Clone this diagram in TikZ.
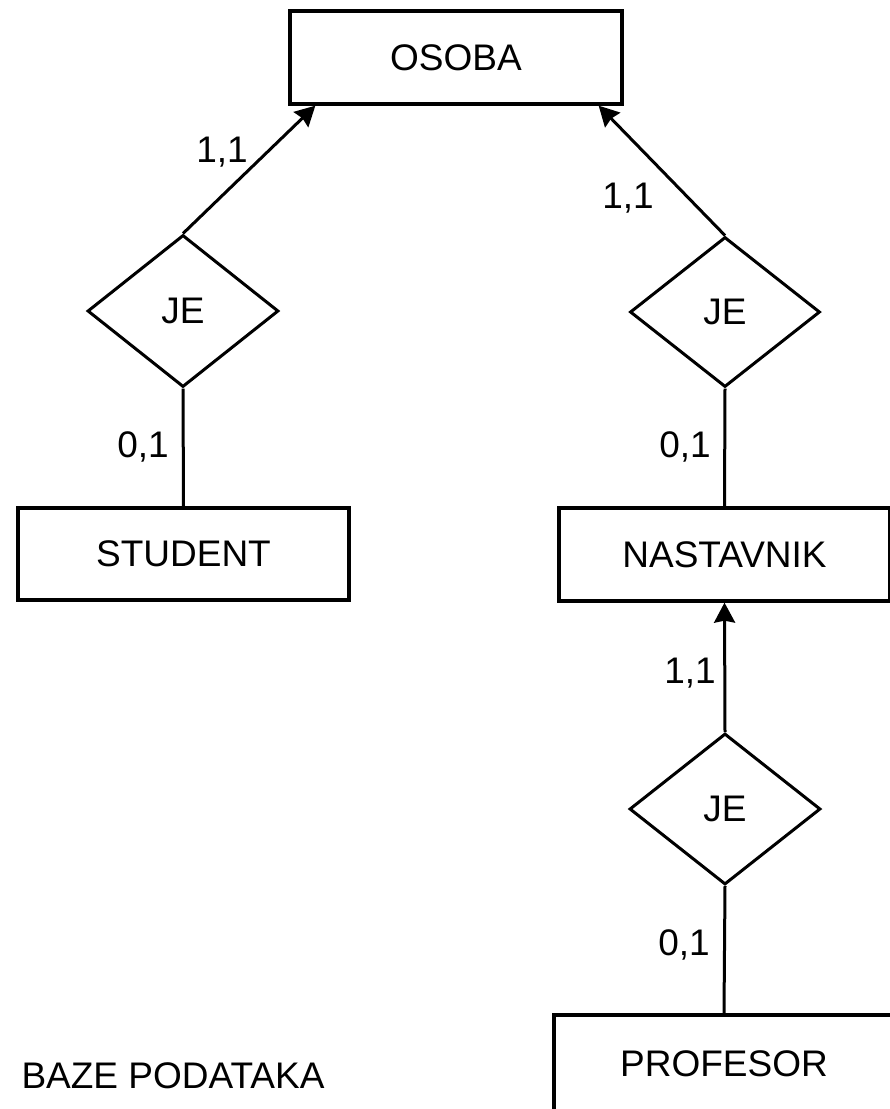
\documentclass[tikz,border=0pt]{standalone}
\usepackage{fontspec}
\setmainfont{Liberation Sans}
\usetikzlibrary{shapes.geometric,arrows.meta,calc}
\begin{document}
\begin{tikzpicture}[x=1pt,y=-1pt,
  every node/.style={font=\fontsize{37}{44}\selectfont},
  entity/.style={draw,line width=3.3pt,rectangle,inner sep=0pt},
  relation/.style={draw,line width=3pt,diamond,inner sep=0pt},
  link/.style={line width=3pt},
  isa/.style={link,-{Stealth[length=20pt,width=21pt,inset=2pt]}},
  card/.style={anchor=base}]
\path[use as bounding box] (0,0) rectangle (890,1109);
\clip (0,0) rectangle (890,1109);

% entities
\node[entity,minimum width=332pt,minimum height=93pt] (osoba) at (456,57.5) {OSOBA};
\node[entity,minimum width=331pt,minimum height=92pt] (student) at (183.5,554) {STUDENT};
\node[entity,minimum width=331pt,minimum height=93pt] (nastavnik) at (724.5,554.5) {NASTAVNIK};
\node[entity,minimum width=340pt,minimum height=98pt] (profesor) at (724,1064) {PROFESOR};

% relationships
\node[relation,minimum width=191pt,minimum height=152pt] (je1) at (183,311) {JE};
\node[relation,minimum width=190pt,minimum height=150pt] (je2) at (725,312) {JE};
\node[relation,minimum width=191pt,minimum height=151pt] (je3) at (725,809) {JE};

% arrow targets on the lower edge of OSOBA
\coordinate (oL) at ($(osoba.south west)+(27,0)$);
\coordinate (oR) at ($(osoba.south east)+(-25,0)$);

% connectors
\draw[isa] (je1.north) -- (oL);
\draw[isa] (je2.north) -- (oR);
\draw[link] (je1.south) -- (student.north);
\draw[link] (je2.south) -- (nastavnik.north);
\draw[isa] (je3.north) -- (nastavnik.south);
\draw[link] (je3.south) -- (profesor.north);

% cardinalities
\node[card] (c1) at (222,162) {1,1};
\node[card] (c2) at (628,208) {1,1};
\node[card] (c3) at (143,457) {0,1};
\node[card] (c4) at (685,457) {0,1};
\node[card] (c5) at (690,683) {1,1};
\node[card] (c6) at (684,955) {0,1};

% caption
\node[anchor=base west] (title) at (18,1088) {BAZE PODATAKA};
\end{tikzpicture}
\end{document}
